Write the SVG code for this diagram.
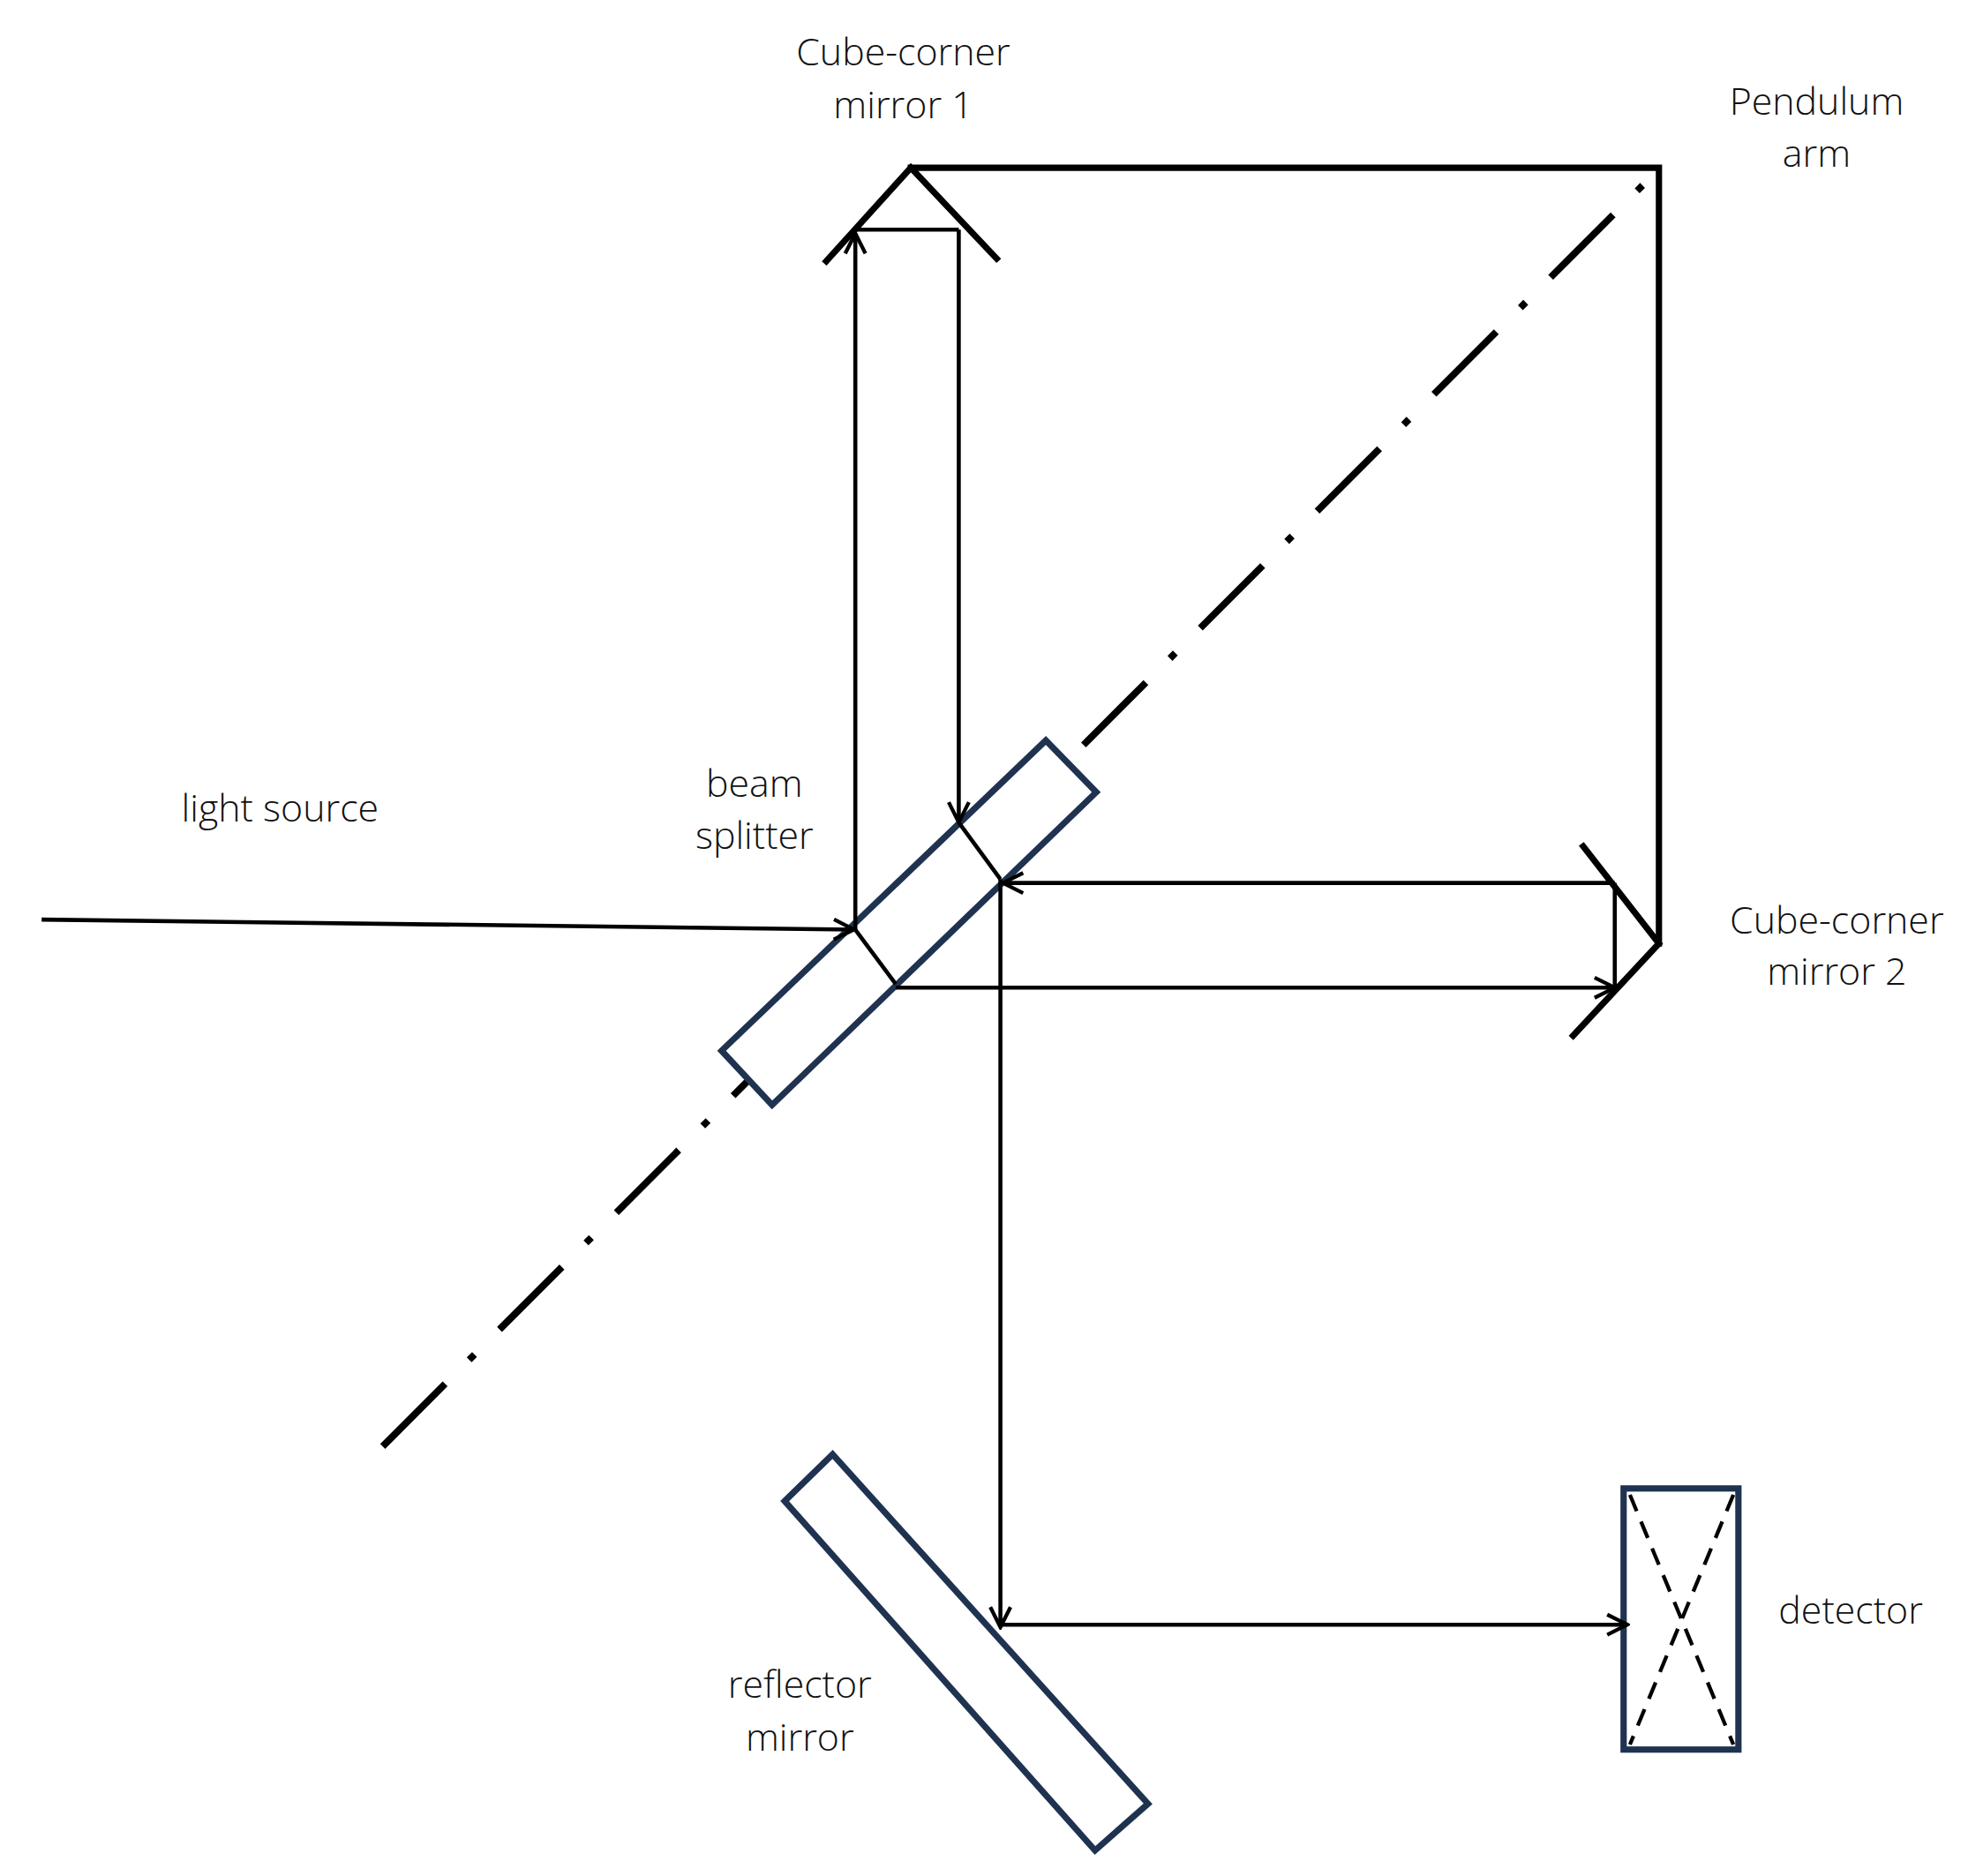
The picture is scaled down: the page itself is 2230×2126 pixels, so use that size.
<svg xmlns="http://www.w3.org/2000/svg" width="2230" height="2126" viewBox="0 0 2230 2126">
<style>
.thick{fill:none;stroke:#000;stroke-width:5;stroke-linecap:square}
.beam{fill:none;stroke:#000;stroke-width:3.2}
.opt{fill:#fff;stroke:#1f3350;stroke-width:5}
.lbl{font-family:"Open Sans","Noto Sans",sans-serif;font-weight:300;font-size:30px;fill:#111;text-anchor:middle}
</style>
<defs>
<marker id="ah" viewBox="0 0 20 20" refX="18" refY="10" markerWidth="20" markerHeight="20" markerUnits="userSpaceOnUse" orient="auto">
<path d="M2,2 L18,10 L2,18" fill="none" stroke="#000" stroke-width="3"/>
</marker>
</defs>
<rect width="2230" height="2126" fill="#fff"/>
<g transform="scale(1.4295)">
<g id="axis">
<line x1="1302" y1="147" x2="300" y2="1150" stroke="#000" stroke-width="5.5" stroke-dasharray="6 27 70 28"/>
</g>
<g id="pendulum-arm" class="thick">
<polyline points="722,133 1315,133 1315,748"/>
</g>
<g id="cube-corner-1">
<polyline class="thick" points="655,207 722,133 790,205"/>
<line class="beam" x1="677" y1="182" x2="760" y2="182"/>
</g>
<g id="cube-corner-2">
<polyline class="thick" points="1255,671 1315,748 1247,821"/>
<line class="beam" x1="1280" y1="700" x2="1280" y2="783"/>
</g>
<g id="beam-splitter">
<polygon class="opt" points="572,833 829,587 869,628 612,876"/>
</g>
<g id="reflector">
<polygon class="opt" points="622,1190 660,1153 910,1430 868,1467"/>
</g>
<g id="detector">
<rect class="opt" x="1287" y="1180" width="91" height="207"/>
<path d="M1292,1185 L1374,1383 M1374,1185 L1292,1383" stroke="#000" stroke-width="3" stroke-dasharray="14 9" fill="none"/>
</g>
<g id="connectors" class="beam">
<line x1="33" y1="729" x2="677" y2="737" marker-end="url(#ah)"/>
<line x1="678" y1="737" x2="678" y2="185" marker-end="url(#ah)"/>
<line x1="760" y1="182" x2="760" y2="652" marker-end="url(#ah)"/>
<polyline points="678,737 710,780"/>
<polyline points="760,652 793,697"/>
<line x1="710" y1="783" x2="1280" y2="783" marker-end="url(#ah)"/>
<line x1="1280" y1="700" x2="795" y2="700" marker-end="url(#ah)"/>
<line x1="793" y1="697" x2="793" y2="1290" marker-end="url(#ah)"/>
<line x1="793" y1="1288" x2="1290" y2="1288" marker-end="url(#ah)"/>
</g>
<g id="labels">
<text class="lbl" x="716" y="52">Cube-corner</text>
<text class="lbl" x="716" y="94">mirror 1</text>
<text class="lbl" x="1440" y="91">Pendulum</text>
<text class="lbl" x="1440" y="132">arm</text>
<text class="lbl" x="222" y="651">light source</text>
<text class="lbl" x="598" y="632">beam</text>
<text class="lbl" x="598" y="673">splitter</text>
<text class="lbl" x="1456" y="740">Cube-corner</text>
<text class="lbl" x="1456" y="781">mirror 2</text>
<text class="lbl" x="1467" y="1287">detector</text>
<text class="lbl" x="634" y="1346">reflector</text>
<text class="lbl" x="634" y="1388">mirror</text>
</g>
</g>
</svg>
